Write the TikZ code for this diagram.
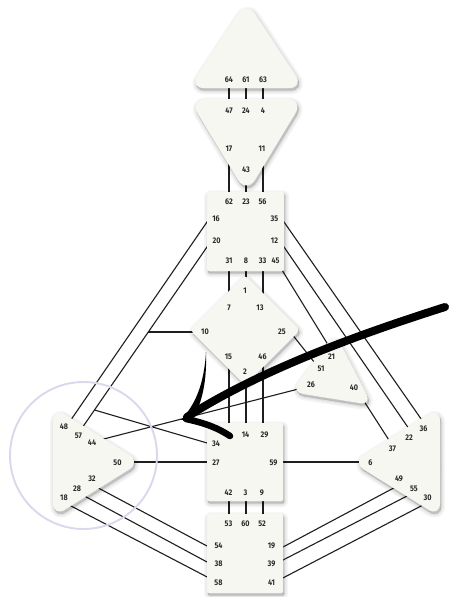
\documentclass[tikz,border=0pt]{standalone}
\usepackage{fontspec}
\newfontfamily\gatefont{Fira Sans}[FakeStretch=0.88]
\definecolor{cfill}{HTML}{F7F7F2}
\definecolor{cline}{HTML}{1E1E1E}
\definecolor{ctext}{HTML}{2A2A2A}
\definecolor{ccircle}{HTML}{DDD6EC}
\tikzset{
  ch/.style={draw=cline, line width=1.1pt},
  shd/.style={preaction={fill=black, draw=black, line width=#1, line join=round, opacity=0.04,
      transform canvas={xshift=1.2pt, yshift=-2.4pt}}},
  centre/.style={shd=8pt, shd=5pt, shd=2.5pt, shd=0pt, fill=cfill},
  gate/.style={font=\gatefont\bfseries\fontsize{8.2}{9}\selectfont, text=ctext, inner sep=0pt},
  ink/.style={black},
}
\begin{document}
\begin{tikzpicture}[x=1pt,y=-1pt]
\useasboundingbox (0,0) rectangle (451,597);
\fill[white] (0,0) rectangle (451,597);
% ---- connector end points (at the rims of the centres)
\foreach \n/\x/\y in {
  64/229/86.5, 47/229/100.5, 61/246/86.5, 24/246/100.5, 63/263/86.5, 4/263/100.5,
  17/229/163, 62/229/193.5, 43/246/179, 23/246/193.5, 11/263/165, 56/263/193.5,
  31/229/269.5, 7/229/292.5, 8/246/269.5, 1/246/280, 33/263/269.5, 13/263/294.5,
  15/229/367.5, 5/229/424.5, 2/246/381, 14/246/424.5, 46/263/365.5, 29/263/424.5,
  42/229/499.5, 53/229/515.5, 3/246/499.5, 60/246/515.5, 9/263/499.5, 52/263/515.5,
  16/208.5/219.8, 48/70.9/419.9, 20/208.5/244.8, 57/82.6/427.2,
  10/194/332, 34/208.5/443.4,
  44/102.5/439.3, 26/305/387.3,
  50/130/462, 27/208.5/462, 59/281.5/462, 6/363/462,
  32/97.6/487.6, 54/208.5/546.8, 28/84.2/495.9, 38/208.5/562.8, 18/69.5/505.2, 58/208.5/577.7,
  49/395/487.3, 19/281.5/547.8, 55/408/495.5, 39/281.5/560.8, 30/423/505, 41/281.5/578.7,
  35/282.5/219.8, 36/421.9/420.1, 12/282.5/244.8, 22/408.6/428.3, 45/282/270, 21/330/348,
  25/292.8/335.2, 51/314.5/362.5, 40/361.5/397.3, 37/389.2/440.5}
  \coordinate (c\n) at (\x,\y);
\coordinate (j10) at (148.4,332);
\coordinate (j34) at (94.5,410);
% ---- connectors
\foreach \a/\b in {64/47, 61/24, 63/4, 17/62, 43/23, 11/56, 31/7, 8/1, 33/13,
  15/5, 2/14, 46/29, 42/53, 3/60, 9/52, 16/48, 20/57, 44/26, 50/27, 59/6,
  32/54, 28/38, 18/58, 49/19, 55/39, 30/41, 35/36, 12/22, 45/21, 25/51, 40/37}
  \draw[ch] (c\a) -- (c\b);
\draw[ch] (c10) -- (j10);
\draw[ch] (j34) -- (c34);
% ---- centres
\path[centre, rounded corners=15] (246.5,88) -- (189,88) -- (246.5,1) -- (304,88) -- cycle;
\path[centre, rounded corners=17] (246.5,99) -- (304,99) -- (246.5,194) -- (189,99) -- cycle;
\path[centre, rounded corners=2] (207,192) rectangle (284,271);
\path[centre, rounded corners=4] (217.5,302.5) -- (245,275) -- (300,330) -- (245,385) -- (190,330) -- cycle;
\path[centre, rounded corners=12] (331.5,398.5) -- (291,392) -- (335,333) -- (372,405) -- cycle;
\path[centre, rounded corners=14] (53,462) -- (53,407) -- (141,462) -- (53,517) -- cycle;
\path[centre, rounded corners=14] (440,462) -- (440,407) -- (352,462) -- (440,517) -- cycle;
\path[centre, rounded corners=2] (207,423) rectangle (283,501);
\path[centre, rounded corners=2] (207,514) rectangle (283,593);
% ---- gate numbers
\foreach \t/\x/\y in {
  64/229/80, 61/246/80, 63/263/80,
  47/229/111, 24/246/111, 4/263/111, 17/229/149, 11/262/149, 43/246/170,
  62/229/201.5, 23/246/201.5, 56/262.5/201.5, 16/216/219, 35/274.5/219,
  20/216.5/240.5, 12/274.5/240.5, 31/229/260.5, 8/246/260.5, 33/262.5/260.5, 45/275.5/260.5,
  1/245/291, 7/229/308, 13/260/308, 10/205/332, 25/282/332, 15/228.5/356.5, 46/262.5/356.5, 2/245/372,
  21/331.5/357, 51/321/369, 26/311/385, 40/354/388,
  48/64/427, 57/78.5/435.5, 44/92/443, 50/117.5/462.5, 32/92/478.5, 28/77/488.5, 18/64/497.5,
  34/216/443.5, 14/245.5/435, 29/264.5/435, 27/216/462.5, 59/273.5/462.5,
  42/228.5/492.5, 3/245.5/492.5, 9/262/492.5,
  53/228.5/524, 60/245.5/524, 52/262/524, 54/218.5/546, 19/271.5/546,
  38/218.5/564, 39/271.5/564, 58/218.5/582.5, 41/271.5/582.5,
  36/423.5/429, 22/409/437.5, 37/392.5/449, 6/370.5/462.5, 49/399/479, 55/414/488.5, 30/427.5/497.5}
  \node[gate] (n\t) at (\x,\y) {\t};
% ---- highlight circle
\draw[ccircle, line width=1.9pt] (83.5,455.5) circle[radius=73.5];
% ---- hand-drawn arrow
\draw[ink, line width=8pt, line cap=round] (445,307) .. controls (360,334) and (260,370) .. (187,417);
\fill[ink] (206,352) .. controls (204,385) and (195,405) .. (181,420) -- (193,419) .. controls (202,402) and (207,382) .. (206,352) -- cycle;
\draw[ink, line width=6.5pt, line cap=round] (186,419) .. controls (205,423) and (218,428) .. (230,436);
\end{tikzpicture}
\end{document}
